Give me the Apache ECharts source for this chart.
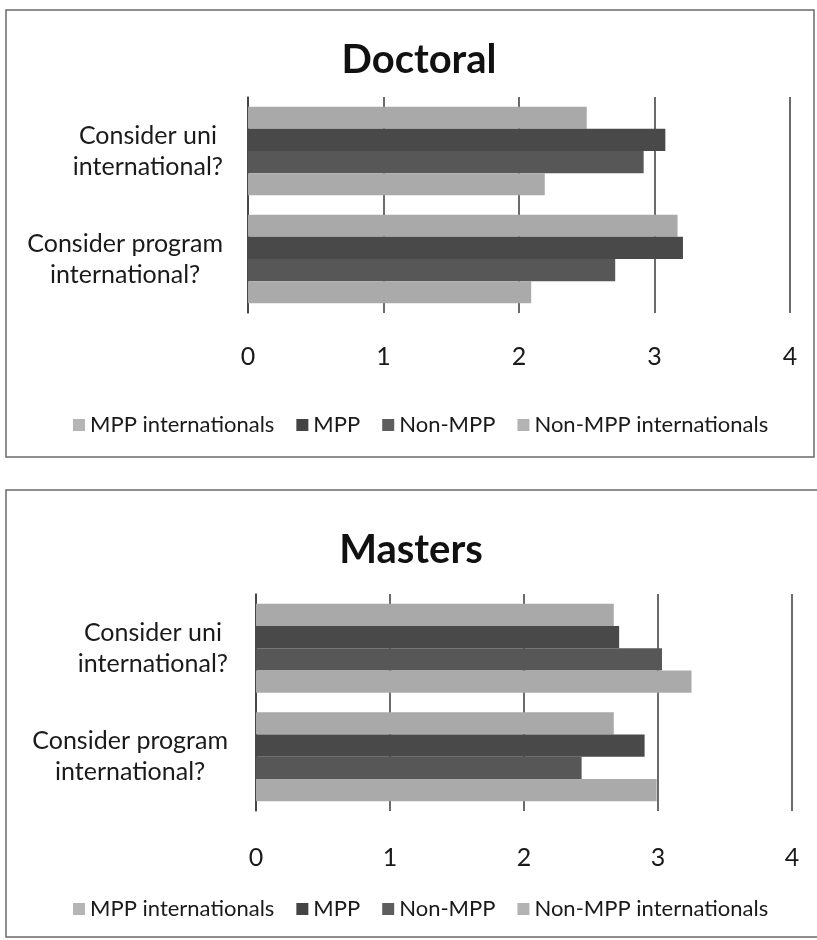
<!DOCTYPE html>
<html>
<head>
<meta charset="utf-8">
<style>
  html, body { margin: 0; padding: 0; background: #ffffff; }
  #chart { width: 817px; height: 940px; }
</style>
<script src="https://cdn.jsdelivr.net/npm/echarts@6/dist/echarts.min.js"></script>
</head>
<body>
<div id="chart"></div>
<script>
// ---- data ----
const chartTitles = ['Doctoral', 'Masters'];
const categories = ['Consider uni\ninternational?', 'Consider program\ninternational?'];
const seriesNames = ['MPP internationals', 'MPP', 'Non-MPP', 'Non-MPP internationals'];
const xTicks = [0, 1, 2, 3, 4];

// Doctoral values per series (order: uni, program)
const doctoralMPPIntl    = [2.50, 3.17];
const doctoralMPP        = [3.08, 3.21];
const doctoralNonMPP     = [2.92, 2.71];
const doctoralNonMPPIntl = [2.19, 2.09];

// Masters values per series (order: uni, program)
const mastersMPPIntl    = [2.67, 2.67];
const mastersMPP        = [2.71, 2.90];
const mastersNonMPP     = [3.03, 2.43];
const mastersNonMPPIntl = [3.25, 2.99];

const doctoralData = [doctoralMPPIntl, doctoralMPP, doctoralNonMPP, doctoralNonMPPIntl];
const mastersData  = [mastersMPPIntl, mastersMPP, mastersNonMPP, mastersNonMPPIntl];

// ---- styles ----
const FONT = 'Lato';
const seriesColors = ['#a9a9a9', '#494949', '#575757', '#aaaaaa'];
const legendColors = ['#b5b5b5', '#444444', '#5e5e5e', '#b3b3b3'];

const grids = [
  { left: 248, width: 542, top: 97, height: 216 },
  { left: 256, width: 536, top: 594, height: 217 }
];

function xAxisFor(i) {
  return {
    type: 'value', gridIndex: i, min: 0, max: 4, interval: 1,
    axisLine: { show: false }, axisTick: { show: false },
    splitLine: { show: true, lineStyle: { color: '#3a3a3a', width: 1.5 } },
    axisLabel: {
      margin: i === 0 ? 31 : 34, fontFamily: FONT, fontSize: 25, color: '#1a1a1a',
      formatter: v => (xTicks.indexOf(v) >= 0 ? String(v) : '')
    }
  };
}
function yAxisFor(i) {
  return {
    type: 'category', gridIndex: i, data: categories, inverse: true,
    axisLine: { show: true, lineStyle: { color: '#3a3a3a', width: 1.5 } },
    axisTick: { show: false },
    axisLabel: {
      margin: i === 0 ? 25 : 28, fontFamily: FONT, fontSize: 25, color: '#1a1a1a', lineHeight: 31,
      formatter: v => v.split('\n').map(s => '{c|' + s + '}').join('\n'),
      rich: { c: { align: 'center', fontFamily: FONT, fontSize: 25, color: '#1a1a1a', lineHeight: 31 } }
    }
  };
}

const series = [];
[doctoralData, mastersData].forEach((set, gi) => {
  set.forEach((vals, si) => {
    series.push({
      name: seriesNames[si], type: 'bar', xAxisIndex: gi, yAxisIndex: gi,
      data: vals, barGap: '0%', barCategoryGap: '18%',
      itemStyle: { color: seriesColors[si] }, z: 3
    });
  });
});

function legendFor(top) {
  return {
    top: top, left: 68, icon: 'rect', itemWidth: 12, itemHeight: 12, itemGap: 22,
    textStyle: { fontFamily: FONT, fontSize: 22, color: '#1a1a1a' },
    data: seriesNames.map((n, i) => ({ name: n, itemStyle: { color: legendColors[i] } })),
    selectedMode: false
  };
}

const option = {
  backgroundColor: '#ffffff',
  animation: false,
  title: [
    { text: chartTitles[0], left: 414, textAlign: 'center', top: 35,
      textStyle: { fontFamily: FONT, fontWeight: 'bold', fontSize: 40, color: '#111' } },
    { text: chartTitles[1], left: 406, textAlign: 'center', top: 525,
      textStyle: { fontFamily: FONT, fontWeight: 'bold', fontSize: 40, color: '#111' } }
  ],
  grid: grids,
  xAxis: [xAxisFor(0), xAxisFor(1)],
  yAxis: [yAxisFor(0), yAxisFor(1)],
  legend: [legendFor(409), legendFor(893)],
  series: series,
  graphic: [
    { type: 'rect', shape: { x: 6, y: 10, width: 808, height: 447 },
      style: { fill: 'none', stroke: '#6a6a6a', lineWidth: 1.5 }, z: 0, silent: true },
    { type: 'rect', shape: { x: 6, y: 490, width: 812, height: 447 },
      style: { fill: 'none', stroke: '#6a6a6a', lineWidth: 1.5 }, z: 0, silent: true }
  ]
};

const chart = echarts.init(document.getElementById('chart'), null, { renderer: 'canvas' });
chart.setOption(option);
</script>
</body>
</html>
